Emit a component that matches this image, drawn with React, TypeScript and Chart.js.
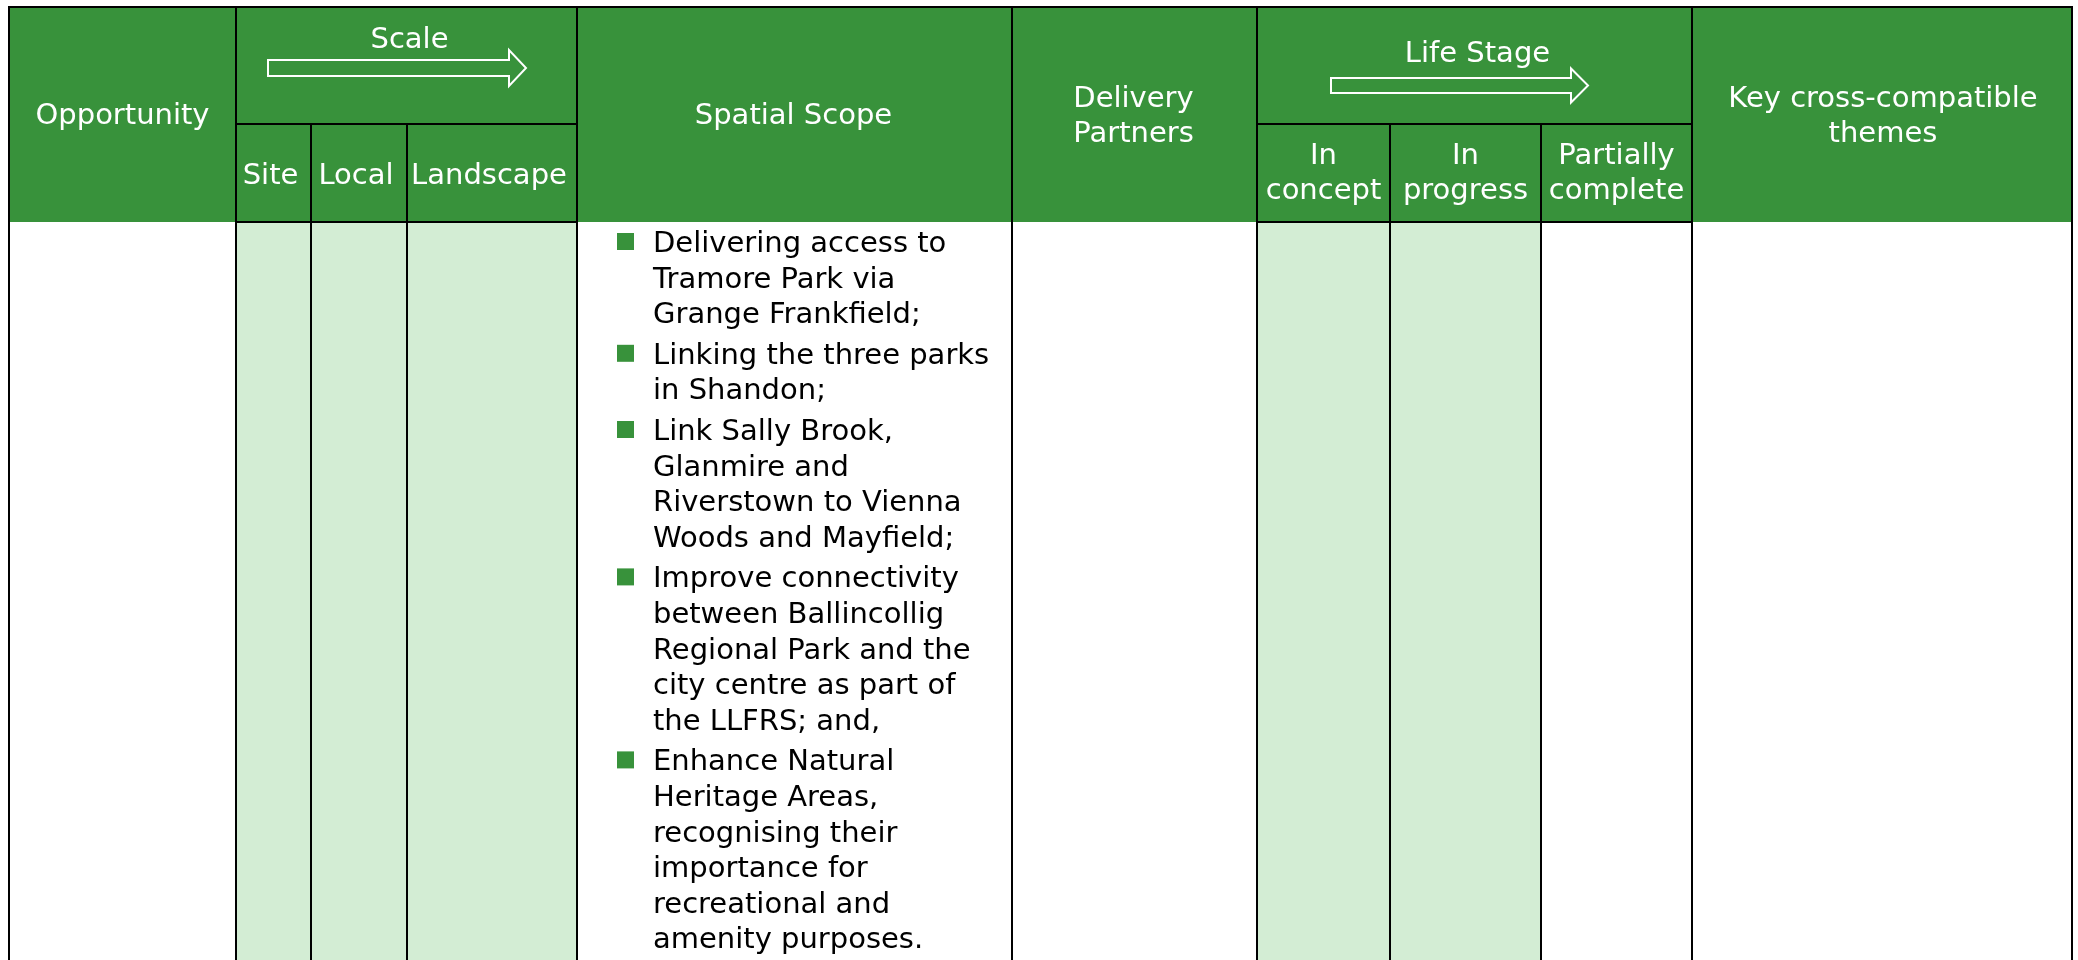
import React, { useEffect, useRef } from "react";
import { Chart, registerables } from "chart.js";

Chart.register(...registerables);

// ---------- table content ----------
const opportunityHeader = "Opportunity";
const scaleGroupHeader = "Scale";
const scaleLevels = ["Site", "Local", "Landscape"];
const spatialHeader = "Spatial Scope";
const partnersHeader = ["Delivery", "Partners"];
const lifeGroupHeader = "Life Stage";
const lifeStages = [
  ["In", "concept"],
  ["In", "progress"],
  ["Partially", "complete"],
];
const themesHeader = ["Key cross-compatible", "themes"];
const scaleShaded = [true, true, true];
const stageShaded = [true, true, false];
const spatialScopeItems = [
  ["Delivering access to", "Tramore Park via", "Grange Frankfield;"],
  ["Linking the three parks", "in Shandon;"],
  ["Link Sally Brook,", "Glanmire and", "Riverstown to Vienna", "Woods and Mayfield;"],
  [
    "Improve connectivity",
    "between Ballincollig",
    "Regional Park and the",
    "city centre as part of",
    "the LLFRS; and,",
  ],
  [
    "Enhance Natural",
    "Heritage Areas,",
    "recognising their",
    "importance for",
    "recreational and",
    "amenity purposes.",
  ],
];

// ---------- layout (page pixels, mapped through the chart's scales) ----------
const W = 2078;
const H = 960;
const colEdges = [8, 235, 310, 406, 576, 1011, 1256, 1389, 1540, 1691, 2071];
const tableTop = 6;
const subHeaderY = 123;
const headerBottom = 221;
const lineW = 2;
const GREEN = "rgb(56,146,59)";
const LIGHT = "rgb(211,237,212)";
const FONT = "29px 'DejaVu Sans', Verdana, sans-serif";

const tablePlugin = {
  id: "tablePlugin",
  afterDraw(chart: any) {
    const ctx = chart.ctx as CanvasRenderingContext2D;
    const xs = chart.scales.x;
    const ys = chart.scales.y;
    const px = (v: number) => xs.getPixelForValue(v);
    const py = (v: number) => ys.getPixelForValue(v);
    const rect = (x0: number, y0: number, x1: number, y1: number, c: string) => {
      ctx.fillStyle = c;
      ctx.fillRect(px(x0), py(y0), px(x1) - px(x0), py(y1) - py(y0));
    };
    const e = colEdges;
    ctx.save();

    // header fill
    rect(e[0], tableTop, e[10] + lineW, headerBottom + 1, GREEN);

    // shaded body cells
    scaleShaded.forEach((s, i) => {
      if (s) rect(e[1 + i], headerBottom, e[2 + i], H, LIGHT);
    });
    stageShaded.forEach((s, i) => {
      if (s) rect(e[6 + i], headerBottom, e[7 + i], H, LIGHT);
    });

    // borders
    const black = "#000";
    rect(e[0], tableTop, e[10] + lineW, tableTop + lineW, black);
    [0, 1, 4, 5, 6, 9, 10].forEach((i) => rect(e[i], tableTop, e[i] + lineW, H, black));
    [2, 3, 7, 8].forEach((i) => rect(e[i], subHeaderY, e[i] + lineW, H, black));
    [subHeaderY, headerBottom].forEach((y) => {
      rect(e[1], y, e[4] + lineW, y + lineW, black);
      rect(e[6], y, e[9] + lineW, y + lineW, black);
    });

    // header text
    ctx.font = FONT;
    ctx.textAlign = "center";
    ctx.textBaseline = "alphabetic";
    ctx.fillStyle = "#fff";
    const text = (t: string, x: number, y: number) => ctx.fillText(t, px(x), py(y));
    const mid = (a: number, b: number) => (a + b) / 2;

    text(opportunityHeader, mid(e[0], e[1]) + 1, 124);
    text(scaleGroupHeader, mid(e[1], e[4]) + 4, 48);
    scaleLevels.forEach((t, i) => text(t, mid(e[1 + i], e[2 + i]) - 2, 184));
    text(spatialHeader, mid(e[4], e[5]), 124);
    partnersHeader.forEach((t, i) => text(t, mid(e[5], e[6]), 107 + i * 35));
    text(lifeGroupHeader, mid(e[6], e[9]) + 4, 62);
    lifeStages.forEach((lines, i) =>
      lines.forEach((t, j) => text(t, mid(e[6 + i], e[7 + i]) + 1, 164 + j * 35))
    );
    themesHeader.forEach((t, i) => text(t, mid(e[9], e[10]) + 2, 107 + i * 35));

    // arrows
    const arrow = (x0: number, x1: number, tip: number, cy: number, bodyHalf: number, headHalf: number) => {
      ctx.beginPath();
      ctx.moveTo(px(x0), py(cy - bodyHalf));
      ctx.lineTo(px(x1), py(cy - bodyHalf));
      ctx.lineTo(px(x1), py(cy - headHalf));
      ctx.lineTo(px(tip), py(cy));
      ctx.lineTo(px(x1), py(cy + headHalf));
      ctx.lineTo(px(x1), py(cy + bodyHalf));
      ctx.lineTo(px(x0), py(cy + bodyHalf));
      ctx.closePath();
      ctx.strokeStyle = "#fff";
      ctx.lineWidth = 2;
      ctx.lineJoin = "miter";
      ctx.stroke();
    };
    arrow(268, 509, 526, 68, 8, 18);
    arrow(1331, 1571, 1588, 85.5, 7.5, 17);

    // body bullets
    ctx.textAlign = "left";
    let base = 252;
    const lineH = 35.6;
    const gap = 5;
    spatialScopeItems.forEach((lines) => {
      rect(617, base - 19, 634, base - 2, GREEN);
      ctx.fillStyle = "#000";
      lines.forEach((t, j) => ctx.fillText(t, px(653), py(base + j * lineH)));
      base += lines.length * lineH + gap;
    });

    ctx.restore();
  },
};

export default function App() {
  const ref = useRef<HTMLCanvasElement | null>(null);
  useEffect(() => {
    if (!ref.current) return;
    const chart = new Chart(ref.current, {
      type: "scatter",
      data: { datasets: [{ data: [] }] },
      options: {
        animation: false,
        responsive: false,
        events: [],
        layout: { padding: 0 },
        plugins: { legend: { display: false }, tooltip: { enabled: false } },
        scales: {
          x: { type: "linear", display: false, min: 0, max: W },
          y: { type: "linear", display: false, min: 0, max: H, reverse: true },
        },
      },
      plugins: [tablePlugin],
    } as any);
    return () => chart.destroy();
  }, []);
  return (
    <div style={{ position: "fixed", left: 0, top: 0, width: W, height: H, background: "#fff" }}>
      <canvas ref={ref} width={W} height={H} style={{ display: "block" }} />
    </div>
  );
}
